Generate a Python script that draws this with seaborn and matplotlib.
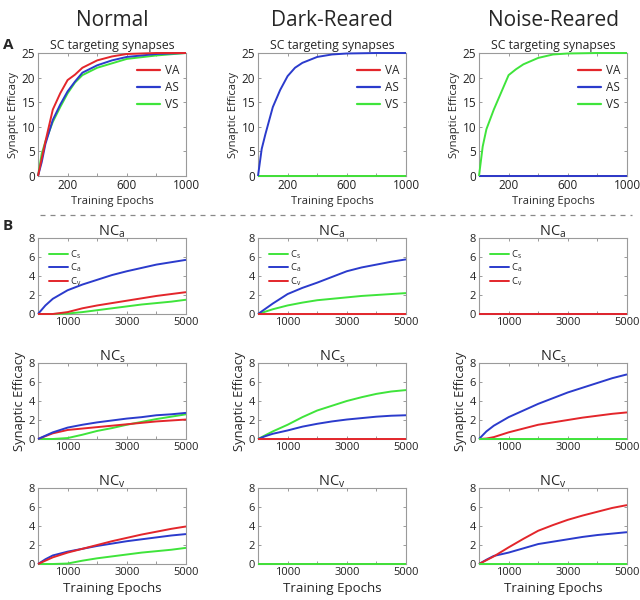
import numpy as np
import pandas as pd
import matplotlib
matplotlib.use("Agg")
import matplotlib.pyplot as plt
from matplotlib.lines import Line2D
import seaborn as sns

# ---------------- data ----------------
conditions = ["Normal", "Dark-Reared", "Noise-Reared"]

epochs_A = [0, 25, 50, 100, 150, 200, 250, 300, 400, 500, 600, 800, 1000]
zeros_A = [0] * len(epochs_A)
normal_VA = [0, 3.5, 7, 13.5, 16.8, 19.5, 20.6, 22, 23.5, 24.3, 24.8, 25, 25]
normal_AS = [0, 2.8, 6.5, 11.4, 14.5, 17.2, 19.2, 21, 22.5, 23.5, 24.2, 24.8, 25]
normal_VS = [0, 4.5, 7, 11, 14, 16.8, 19, 20.5, 22, 22.9, 23.8, 24.5, 25]
dark_AS = [0, 5.5, 8.5, 14, 17.5, 20.3, 22, 23, 24.2, 24.7, 24.9, 25, 25]
noise_VS = [0, 6, 9.5, 13.5, 17, 20.5, 21.7, 22.7, 24, 24.7, 24.9, 25, 25]

epochs_B = [0, 250, 500, 1000, 1500, 2000, 2500, 3000, 3500, 4000, 4500, 5000]
zeros_B = [0] * len(epochs_B)

# NCa
normal_NCa_Cs = [0, 0, 0, 0.05, 0.2, 0.4, 0.6, 0.8, 1.0, 1.15, 1.3, 1.5]
normal_NCa_Ca = [0, 0.9, 1.6, 2.5, 3.1, 3.6, 4.1, 4.5, 4.85, 5.2, 5.45, 5.7]
normal_NCa_Cv = [0, 0, 0, 0.2, 0.6, 0.9, 1.15, 1.4, 1.65, 1.9, 2.1, 2.3]
dark_NCa_Cs = [0, 0.25, 0.5, 0.9, 1.2, 1.45, 1.6, 1.75, 1.9, 2.0, 2.1, 2.2]
dark_NCa_Ca = [0, 0.55, 1.1, 2.1, 2.75, 3.3, 3.9, 4.5, 4.9, 5.2, 5.5, 5.75]
# NCs
normal_NCs_Cs = [0, 0, 0, 0.1, 0.45, 0.85, 1.15, 1.5, 1.8, 2.1, 2.35, 2.6]
normal_NCs_Ca = [0, 0.35, 0.7, 1.2, 1.5, 1.75, 1.95, 2.15, 2.3, 2.5, 2.6, 2.75]
normal_NCs_Cv = [0, 0.3, 0.6, 0.95, 1.1, 1.25, 1.4, 1.55, 1.7, 1.85, 1.95, 2.05]
dark_NCs_Cs = [0, 0.4, 0.8, 1.5, 2.3, 3.0, 3.5, 4.0, 4.4, 4.75, 5.0, 5.15]
dark_NCs_Ca = [0, 0.3, 0.55, 0.9, 1.3, 1.6, 1.85, 2.05, 2.2, 2.35, 2.45, 2.5]
noise_NCs_Ca = [0, 0.8, 1.4, 2.3, 3.0, 3.7, 4.3, 4.9, 5.4, 5.9, 6.4, 6.8]
noise_NCs_Cv = [0, 0.05, 0.2, 0.7, 1.1, 1.5, 1.75, 2.0, 2.25, 2.45, 2.65, 2.8]
# NCv
normal_NCv_Cs = [0, 0, 0, 0.05, 0.35, 0.6, 0.8, 1.0, 1.2, 1.35, 1.5, 1.7]
normal_NCv_Ca = [0, 0.5, 0.9, 1.3, 1.6, 1.9, 2.15, 2.4, 2.6, 2.8, 3.0, 3.15]
normal_NCv_Cv = [0, 0.35, 0.7, 1.2, 1.6, 2.0, 2.4, 2.75, 3.1, 3.4, 3.7, 3.95]
noise_NCv_Ca = [0, 0.45, 0.85, 1.2, 1.65, 2.1, 2.35, 2.6, 2.85, 3.05, 3.2, 3.35]
noise_NCv_Cv = [0, 0.4, 0.8, 1.75, 2.65, 3.5, 4.1, 4.65, 5.1, 5.5, 5.9, 6.2]

labels_A = ["VA", "AS", "VS"]
labels_B = ["C$_\\mathregular{s}$", "C$_\\mathregular{a}$", "C$_\\mathregular{v}$"]
titles_B = ["NC$_\\mathregular{a}$", "NC$_\\mathregular{s}$", "NC$_\\mathregular{v}$"]

RED, BLUE, GREEN = "#e3262b", "#2b3bcc", "#3fe43b"

panels_A = [
    {"VA": normal_VA, "AS": normal_AS, "VS": normal_VS, "order": ["VS", "AS", "VA"]},
    {"VA": zeros_A, "AS": dark_AS, "VS": zeros_A, "order": ["VA", "VS", "AS"]},
    {"VA": zeros_A, "AS": zeros_A, "VS": noise_VS, "order": ["VA", "AS", "VS"]},
]
colors_A = {"VA": RED, "AS": BLUE, "VS": GREEN}

panels_B = [
    [  # NCa
        {"Cs": normal_NCa_Cs, "Ca": normal_NCa_Ca, "Cv": normal_NCa_Cv, "order": ["Cs", "Ca", "Cv"]},
        {"Cs": dark_NCa_Cs, "Ca": dark_NCa_Ca, "Cv": zeros_B, "order": ["Cs", "Ca", "Cv"]},
        {"Cs": zeros_B, "Ca": zeros_B, "Cv": zeros_B, "order": ["Cs", "Ca", "Cv"]},
    ],
    [  # NCs
        {"Cs": normal_NCs_Cs, "Ca": normal_NCs_Ca, "Cv": normal_NCs_Cv, "order": ["Cs", "Cv", "Ca"]},
        {"Cs": dark_NCs_Cs, "Ca": dark_NCs_Ca, "Cv": zeros_B, "order": ["Cs", "Ca", "Cv"]},
        {"Cs": zeros_B, "Ca": noise_NCs_Ca, "Cv": noise_NCs_Cv, "order": ["Cv", "Ca", "Cs"]},
    ],
    [  # NCv
        {"Cs": normal_NCv_Cs, "Ca": normal_NCv_Ca, "Cv": normal_NCv_Cv, "order": ["Cs", "Ca", "Cv"]},
        {"Cs": zeros_B, "Ca": zeros_B, "Cv": zeros_B, "order": ["Ca", "Cv", "Cs"]},
        {"Cs": zeros_B, "Ca": noise_NCv_Ca, "Cv": noise_NCv_Cv, "order": ["Ca", "Cv", "Cs"]},
    ],
]
colors_B = {"Cs": GREEN, "Ca": BLUE, "Cv": RED}

# ---------------- style ----------------
sns.set_theme(style="white")
plt.rcParams["font.family"] = ["Open Sans", "DejaVu Sans"]
plt.rcParams["mathtext.default"] = "regular"
GRAY = "#9a9a9a"

fig = plt.figure(figsize=(6.4, 6.0), dpi=100)

lefts = [38 / 640, 258 / 640, 479 / 640]
width = 148 / 640


def style_axes(ax, tick_fs):
    for s in ax.spines.values():
        s.set_color(GRAY)
        s.set_linewidth(0.8)
    ax.tick_params(direction="in", length=2.5, width=0.7, color=GRAY,
                   top=True, right=True, bottom=True, left=True,
                   labelsize=tick_fs, pad=2, labelcolor="#222222")


def finish_lines(ax, lw):
    for i, ln in enumerate(ax.get_lines()):
        ln.set_clip_on(False)
        ln.set_linewidth(lw)
        ln.set_zorder(3 + i * 0.1)
        ln.set_solid_capstyle("butt")


# Row A
for c in range(3):
    ax = fig.add_axes([lefts[c], 1 - 176 / 600, width, 123 / 600])
    p = panels_A[c]
    for key in p["order"]:
        sns.lineplot(x=epochs_A, y=p[key], color=colors_A[key], ax=ax, legend=False)
    finish_lines(ax, 1.4)
    ax.set_xlim(0, 1000)
    ax.set_ylim(0, 25)
    ax.set_xticks([0, 200, 400, 600, 800, 1000])
    ax.set_xticklabels(["", "200", "", "600", "", "1000"])
    ax.set_yticks([0, 5, 10, 15, 20, 25])
    style_axes(ax, 8.5)
    ax.set_title("SC targeting synapses", fontsize=8.8, pad=3)
    ax.set_xlabel("Training Epochs", fontsize=8, labelpad=3)
    ax.set_ylabel("Synaptic Efficacy", fontsize=8, labelpad=2)
    handles = [Line2D([], [], color=colors_A[k], lw=1.6) for k in labels_A]
    ax.legend(handles, labels_A, loc="upper right", bbox_to_anchor=(1.0, 0.97),
              frameon=False, fontsize=8.5, handlelength=1.9, handletextpad=0.4,
              labelspacing=0.35, borderaxespad=0.2)
    fig.text(lefts[c] + width / 2, 1 - 20 / 600, conditions[c],
             ha="center", va="center", fontsize=15)

# Row B
tops_B = [238, 363, 488]
for r in range(3):
    for c in range(3):
        ax = fig.add_axes([lefts[c], 1 - (tops_B[r] + 76) / 600, width, 76 / 600])
        p = panels_B[r][c]
        for key in p["order"]:
            sns.lineplot(x=epochs_B, y=p[key], color=colors_B[key], ax=ax, legend=False)
        finish_lines(ax, 1.4)
        ax.set_xlim(0, 5000)
        ax.set_ylim(0, 8)
        ax.set_xticks([0, 1000, 2000, 3000, 4000, 5000])
        ax.set_xticklabels(["", "1000", "", "3000", "", "5000"])
        ax.set_yticks([0, 2, 4, 6, 8])
        style_axes(ax, 8)
        ax.set_title(titles_B[r], fontsize=10.5, pad=2)
        ax.set_xlabel("Training Epochs" if r == 2 else "", fontsize=9.5, labelpad=3)
        ax.set_ylabel("Synaptic Efficacy" if r == 1 else "", fontsize=9.3, labelpad=2)
        if r == 0:
            handles = [Line2D([], [], color=colors_B[k], lw=1.4) for k in ["Cs", "Ca", "Cv"]]
            ax.legend(handles, labels_B, loc="upper left", bbox_to_anchor=(0.04, 0.93),
                      frameon=False, fontsize=6.8, handlelength=2.0, handletextpad=0.3,
                      labelspacing=0.12, borderaxespad=0.1)

# separator and panel letters
fig.add_artist(Line2D([40 / 640, 632 / 640], [1 - 215 / 600, 1 - 215 / 600],
                      transform=fig.transFigure, color="#888888", lw=0.9,
                      linestyle=(0, (4, 4))))
fig.text(3 / 640, 1 - 45 / 600, "A", fontsize=11, fontweight="bold", va="center")
fig.text(3 / 640, 1 - 226 / 600, "B", fontsize=11, fontweight="bold", va="center")

fig.savefig("out.png", dpi=100, facecolor="white")
